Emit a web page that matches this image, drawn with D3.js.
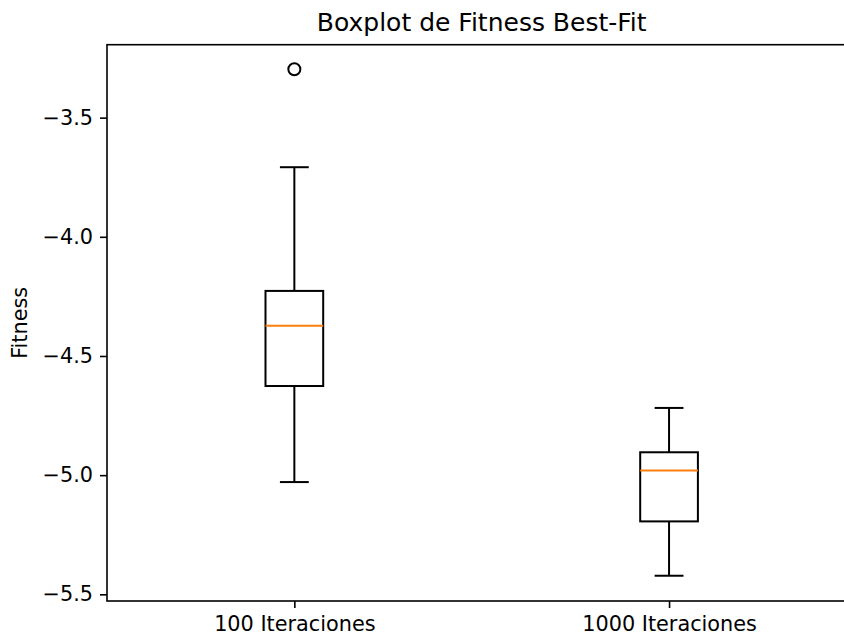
<!DOCTYPE html>
<html>
<head>
<meta charset="utf-8">
<script src="https://cdn.jsdelivr.net/npm/d3@7"></script>
<style>
  body { margin: 0; background: #fff; }
  text { font-family: "DejaVu Sans", sans-serif; fill: #000; }
</style>
</head>
<body>
<script>
'use strict'
// box stats
var categories = ["100 Iteraciones", "1000 Iteraciones"];
var whiskerLow = [-5.029, -5.422];
var q1 = [-4.626, -5.194];
var median = [-4.373, -4.980];
var q3 = [-4.227, -4.904];
var whiskerHigh = [-3.708, -4.718];
var outliers = [[-3.297], []];
var yTicks = [-5.5, -5.0, -4.5, -4.0, -3.5];

var width = 844, height = 636;
var margin = {top: 44.7, left: 107, bottom: 601, right: 856.4};

var svg = d3.select("body")
            .append("svg")
            .attr("width", width)
            .attr("height", height);

var x = d3.scaleLinear().domain([0.5, 2.5]).range([margin.left, margin.right]);
var y = d3.scaleLinear().domain([-5.528, -3.194]).range([margin.bottom, margin.top]);

var boxW = (x(2) - x(1)) * 0.154;

// axes
var yAxis = svg.append("g")
               .attr("transform", "translate(" + margin.left + ",0)")
               .call(d3.axisLeft(y).tickValues(yTicks).tickFormat(d3.format(".1f")).tickSize(7).tickPadding(7));
var xAxis = svg.append("g")
               .attr("transform", "translate(0," + margin.bottom + ")")
               .call(d3.axisBottom(x).tickValues([1, 2]).tickFormat(function(d){ return categories[d - 1]; }).tickSize(7).tickPadding(8));
[yAxis, xAxis].forEach(function(a){
  a.selectAll("text").style("font-size", "20.8px").attr("fill", "#000")
   .style("font-family", "DejaVu Sans, sans-serif");
  a.selectAll("line").attr("stroke", "#000").attr("stroke-width", 1.6);
  a.select(".domain").remove();
});

// frame
svg.append("rect")
   .attr("x", margin.left)
   .attr("y", margin.top)
   .attr("width", margin.right - margin.left)
   .attr("height", margin.bottom - margin.top)
   .attr("fill", "none")
   .attr("stroke", "#000")
   .attr("stroke-width", 1.6);

var boxes = svg.selectAll("g.box")
               .data(categories)
               .enter()
               .append("g")
               .attr("class", "box");

boxes.each(function(d, i){
  var g = d3.select(this);
  var cx = x(i + 1);
  // whiskers
  g.append("line").attr("x1", cx).attr("x2", cx).attr("y1", y(q3[i])).attr("y2", y(whiskerHigh[i]));
  g.append("line").attr("x1", cx).attr("x2", cx).attr("y1", y(q1[i])).attr("y2", y(whiskerLow[i]));
  // caps
  g.append("line").attr("x1", cx - boxW / 4).attr("x2", cx + boxW / 4).attr("y1", y(whiskerHigh[i])).attr("y2", y(whiskerHigh[i]));
  g.append("line").attr("x1", cx - boxW / 4).attr("x2", cx + boxW / 4).attr("y1", y(whiskerLow[i])).attr("y2", y(whiskerLow[i]));
  g.selectAll("line").attr("stroke", "#000").attr("stroke-width", 2);
  g.append("rect")
   .attr("x", cx - boxW / 2)
   .attr("y", y(q3[i]))
   .attr("width", boxW)
   .attr("height", y(q1[i]) - y(q3[i]))
   .attr("fill", "none")
   .attr("stroke", "#000")
   .attr("stroke-width", 2);
  g.append("line")
   .attr("x1", cx - boxW / 2).attr("x2", cx + boxW / 2)
   .attr("y1", y(median[i])).attr("y2", y(median[i]))
   .attr("stroke", "#ff7f0e")
   .attr("stroke-width", 2);
  g.selectAll("circle")
   .data(outliers[i])
   .enter()
   .append("circle")
   .attr("cx", cx)
   .attr("cy", function(v){ return y(v); })
   .attr("r", 6)
   .attr("fill", "none")
   .attr("stroke", "#000")
   .attr("stroke-width", 2);
});

// title and label
svg.append("text")
   .attr("x", (margin.left + margin.right) / 2)
   .attr("y", 31)
   .attr("text-anchor", "middle")
   .style("font-size", "25px")
   .text("Boxplot de Fitness Best-Fit");

svg.append("text")
   .attr("transform", "translate(27," + (margin.top + margin.bottom) / 2 + ") rotate(-90)")
   .attr("text-anchor", "middle")
   .style("font-size", "20.8px")
   .text("Fitness");
</script>
</body>
</html>
